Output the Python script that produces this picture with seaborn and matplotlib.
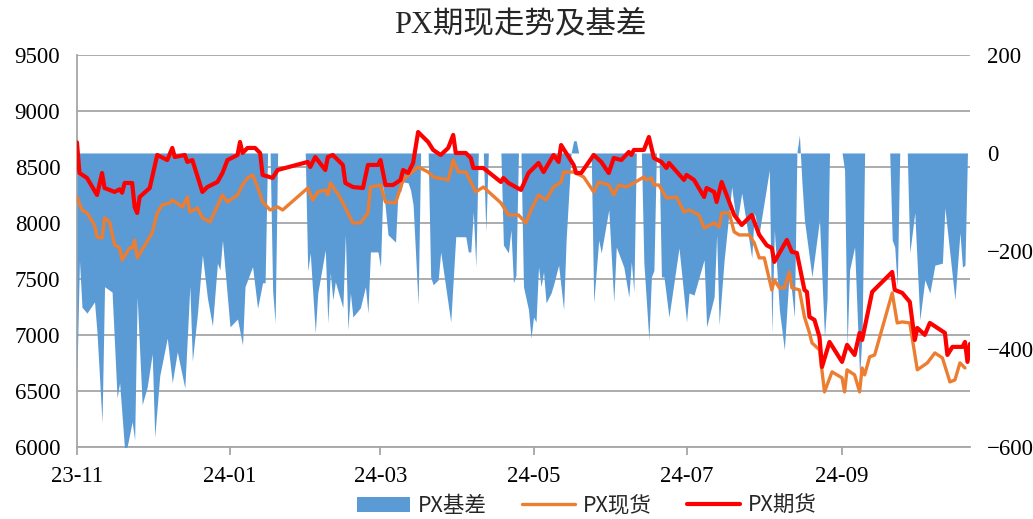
import pandas as pd
import matplotlib
matplotlib.use("Agg")
import matplotlib.pyplot as plt
import matplotlib.dates as mdates
from matplotlib.patches import Patch
from matplotlib.lines import Line2D
import seaborn as sns

sns.set_theme(style="white")
plt.rcParams['font.family'] = ['Liberation Serif', 'Noto Sans CJK SC']

# PX期货 (left axis)
fut_dates = [
    "2023-11-01", "2023-11-02", "2023-11-05", "2023-11-09", "2023-11-11", "2023-11-12",
    "2023-11-16", "2023-11-18", "2023-11-19", "2023-11-20", "2023-11-23", "2023-11-24",
    "2023-11-25", "2023-11-26", "2023-11-30", "2023-12-03", "2023-12-07", "2023-12-09",
    "2023-12-10", "2023-12-14", "2023-12-15", "2023-12-17", "2023-12-21", "2023-12-23",
    "2023-12-27", "2023-12-29", "2023-12-31", "2024-01-04", "2024-01-05", "2024-01-06",
    "2024-01-08", "2024-01-11", "2024-01-13", "2024-01-14", "2024-01-18", "2024-01-20",
    "2024-02-01", "2024-02-02", "2024-02-04", "2024-02-08", "2024-02-09", "2024-02-11",
    "2024-02-15", "2024-02-16", "2024-02-19", "2024-02-23", "2024-02-25", "2024-02-29",
    "2024-03-01", "2024-03-03", "2024-03-06", "2024-03-09", "2024-03-10", "2024-03-12",
    "2024-03-14", "2024-03-16", "2024-03-20", "2024-03-22", "2024-03-25", "2024-03-28",
    "2024-03-30", "2024-03-31", "2024-04-04", "2024-04-06", "2024-04-07", "2024-04-11",
    "2024-04-18", "2024-04-19", "2024-04-21", "2024-04-26", "2024-04-29", "2024-05-03",
    "2024-05-05", "2024-05-09", "2024-05-11", "2024-05-12", "2024-05-17", "2024-05-18",
    "2024-05-20", "2024-05-25", "2024-05-28", "2024-05-31", "2024-06-02", "2024-06-05",
    "2024-06-08", "2024-06-09", "2024-06-10", "2024-06-14", "2024-06-16", "2024-06-18",
    "2024-06-21", "2024-06-23", "2024-06-24", "2024-06-30", "2024-07-01", "2024-07-04",
    "2024-07-08", "2024-07-09", "2024-07-12", "2024-07-13", "2024-07-15", "2024-07-20",
    "2024-07-23", "2024-07-27", "2024-07-30", "2024-08-02", "2024-08-04", "2024-08-05",
    "2024-08-10", "2024-08-12", "2024-08-14", "2024-08-17", "2024-08-18", "2024-08-19",
    "2024-08-21", "2024-08-23", "2024-08-24", "2024-08-27", "2024-09-01", "2024-09-03",
    "2024-09-06", "2024-09-08", "2024-09-09", "2024-09-13", "2024-09-21", "2024-09-22",
    "2024-09-25", "2024-09-28", "2024-09-30", "2024-10-01", "2024-10-04", "2024-10-06",
    "2024-10-12", "2024-10-13", "2024-10-15", "2024-10-19", "2024-10-20", "2024-10-21",
    "2024-10-22",
]
fut_values = [
    8720, 8446, 8402, 8250, 8446, 8312,
    8277, 8300, 8270, 8357, 8357, 8143,
    8089, 8232, 8312, 8607, 8562, 8670,
    8589, 8607, 8545, 8562, 8277, 8321,
    8366, 8446, 8562, 8607, 8723, 8625,
    8670, 8670, 8625, 8429, 8402, 8473,
    8545, 8500, 8589, 8473, 8589, 8607,
    8518, 8357, 8321, 8312, 8518, 8518,
    8562, 8339, 8339, 8384, 8473, 8446,
    8536, 8812, 8723, 8652, 8607, 8670,
    8786, 8625, 8625, 8580, 8491, 8491,
    8366, 8402, 8357, 8295, 8446, 8536,
    8455, 8607, 8545, 8696, 8518, 8446,
    8446, 8607, 8545, 8446, 8580, 8562,
    8634, 8607, 8652, 8652, 8768, 8580,
    8545, 8491, 8536, 8384, 8429, 8384,
    8232, 8312, 8277, 8187, 8366, 8071,
    7982, 8071, 7893, 7800, 7777, 7652,
    7848, 7741, 7732, 7402, 7384, 7161,
    7134, 6982, 6714, 6937, 6759, 6911,
    6821, 7018, 6955, 7384, 7562, 7402,
    7375, 7295, 6955, 7062, 7000, 7107,
    7018, 6821, 6893, 6893, 6937, 6759,
    6920,
]

# PX现货 (left axis)
spot_dates = [
    "2023-11-01", "2023-11-03", "2023-11-05", "2023-11-08", "2023-11-09", "2023-11-11",
    "2023-11-12", "2023-11-14", "2023-11-16", "2023-11-18", "2023-11-19", "2023-11-22",
    "2023-11-23", "2023-11-24", "2023-11-25", "2023-11-30", "2023-12-01", "2023-12-03",
    "2023-12-05", "2023-12-08", "2023-12-09", "2023-12-13", "2023-12-15", "2023-12-16",
    "2023-12-19", "2023-12-21", "2023-12-24", "2023-12-29", "2023-12-31", "2024-01-04",
    "2024-01-06", "2024-01-08", "2024-01-10", "2024-01-12", "2024-01-14", "2024-01-17",
    "2024-01-20", "2024-01-22", "2024-02-01", "2024-02-03", "2024-02-05", "2024-02-08",
    "2024-02-09", "2024-02-10", "2024-02-14", "2024-02-16", "2024-02-19", "2024-02-22",
    "2024-02-25", "2024-02-26", "2024-03-01", "2024-03-03", "2024-03-07", "2024-03-10",
    "2024-03-13", "2024-03-16", "2024-03-20", "2024-03-22", "2024-03-28", "2024-03-30",
    "2024-04-01", "2024-04-04", "2024-04-06", "2024-04-08", "2024-04-11", "2024-04-18",
    "2024-04-21", "2024-04-25", "2024-04-28", "2024-04-30", "2024-05-03", "2024-05-06",
    "2024-05-09", "2024-05-12", "2024-05-13", "2024-05-17", "2024-05-21", "2024-05-25",
    "2024-05-27", "2024-05-31", "2024-06-02", "2024-06-04", "2024-06-07", "2024-06-10",
    "2024-06-14", "2024-06-15", "2024-06-17", "2024-06-18", "2024-06-20", "2024-06-23",
    "2024-06-27", "2024-06-30", "2024-07-02", "2024-07-06", "2024-07-08", "2024-07-12",
    "2024-07-14", "2024-07-15", "2024-07-18", "2024-07-20", "2024-07-22", "2024-07-26",
    "2024-07-28", "2024-07-30", "2024-08-01", "2024-08-04", "2024-08-05", "2024-08-07",
    "2024-08-09", "2024-08-11", "2024-08-12", "2024-08-15", "2024-08-17", "2024-08-19",
    "2024-08-20", "2024-08-23", "2024-08-25", "2024-08-28", "2024-09-01", "2024-09-02",
    "2024-09-03", "2024-09-06", "2024-09-08", "2024-09-09", "2024-09-10", "2024-09-12",
    "2024-09-14", "2024-09-21", "2024-09-23", "2024-09-25", "2024-09-28", "2024-10-01",
    "2024-10-05", "2024-10-08", "2024-10-11", "2024-10-14", "2024-10-16", "2024-10-18",
    "2024-10-20",
]
spot_values = [
    8232, 8116, 8089, 7982, 7875, 7866,
    8045, 8009, 7804, 7777, 7670, 7777,
    7777, 7848, 7688, 7875, 7911, 8089,
    8161, 8179, 8205, 8143, 8232, 8098,
    8134, 8045, 8009, 8250, 8187, 8250,
    8339, 8402, 8429, 8321, 8187, 8116,
    8143, 8116, 8312, 8205, 8277, 8295,
    8250, 8357, 8223, 8134, 8000, 8000,
    8089, 8321, 8339, 8187, 8179, 8384,
    8446, 8500, 8455, 8411, 8384, 8562,
    8455, 8455, 8366, 8277, 8321, 8179,
    8071, 8071, 8000, 8116, 8250, 8205,
    8321, 8366, 8455, 8455, 8411, 8277,
    8366, 8339, 8250, 8339, 8321, 8357,
    8411, 8384, 8402, 8339, 8339, 8223,
    8232, 8098, 8116, 8071, 7955, 8000,
    7964, 8089, 8089, 7920, 7893, 7893,
    7821, 7688, 7688, 7402, 7491, 7420,
    7420, 7562, 7420, 7402, 7161, 7018,
    6929, 6866, 6491, 6670, 6616, 6491,
    6688, 6643, 6491, 6705, 6643, 6804,
    6821, 7375, 7107, 7116, 7107, 6688,
    6750, 6839, 6795, 6580, 6598, 6750,
    6705,
]

# PX基差 (right axis)
basis_dates = [
    "2023-11-01", "2023-11-02", "2023-11-03", "2023-11-05", "2023-11-08", "2023-11-09",
    "2023-11-11", "2023-11-12", "2023-11-15", "2023-11-17", "2023-11-18", "2023-11-20",
    "2023-11-21", "2023-11-23", "2023-11-24", "2023-11-25", "2023-11-27", "2023-11-29",
    "2023-12-01", "2023-12-02", "2023-12-04", "2023-12-07", "2023-12-09", "2023-12-11",
    "2023-12-14", "2023-12-16", "2023-12-17", "2023-12-19", "2023-12-21", "2023-12-23",
    "2023-12-25", "2023-12-27", "2023-12-28", "2023-12-29", "2024-01-01", "2024-01-04",
    "2024-01-06", "2024-01-07", "2024-01-10", "2024-01-12", "2024-01-14", "2024-01-15",
    "2024-01-16", "2024-01-17", "2024-01-18", "2024-01-19", "2024-01-20", "2024-01-31",
    "2024-02-01", "2024-02-02", "2024-02-04", "2024-02-05", "2024-02-08", "2024-02-09",
    "2024-02-10", "2024-02-11", "2024-02-12", "2024-02-15", "2024-02-16", "2024-02-17",
    "2024-02-18", "2024-02-19", "2024-02-22", "2024-02-24", "2024-02-25", "2024-02-26",
    "2024-02-29", "2024-03-01", "2024-03-02", "2024-03-04", "2024-03-07", "2024-03-08",
    "2024-03-09", "2024-03-10", "2024-03-12", "2024-03-13", "2024-03-14", "2024-03-16",
    "2024-03-17", "2024-03-20", "2024-03-21", "2024-03-22", "2024-03-24", "2024-03-25",
    "2024-03-29", "2024-03-31", "2024-04-04", "2024-04-05", "2024-04-06", "2024-04-07",
    "2024-04-08", "2024-04-09", "2024-04-11", "2024-04-12", "2024-04-13", "2024-04-18",
    "2024-04-19", "2024-04-21", "2024-04-22", "2024-04-23", "2024-04-24", "2024-04-25",
    "2024-04-26", "2024-04-27", "2024-04-29", "2024-04-30", "2024-05-01", "2024-05-02",
    "2024-05-03", "2024-05-04", "2024-05-05", "2024-05-06", "2024-05-08", "2024-05-09",
    "2024-05-11", "2024-05-13", "2024-05-14", "2024-05-16", "2024-05-17", "2024-05-18",
    "2024-05-19", "2024-05-24", "2024-05-25", "2024-05-27", "2024-05-28", "2024-05-31",
    "2024-06-02", "2024-06-03", "2024-06-06", "2024-06-08", "2024-06-09", "2024-06-10",
    "2024-06-11", "2024-06-13", "2024-06-14", "2024-06-16", "2024-06-17", "2024-06-18",
    "2024-06-19", "2024-06-20", "2024-06-21", "2024-06-22", "2024-06-24", "2024-06-28",
    "2024-07-01", "2024-07-02", "2024-07-04", "2024-07-08", "2024-07-09", "2024-07-12",
    "2024-07-13", "2024-07-14", "2024-07-16", "2024-07-19", "2024-07-21", "2024-07-23",
    "2024-07-27", "2024-07-28", "2024-07-30", "2024-08-03", "2024-08-04", "2024-08-05",
    "2024-08-07", "2024-08-09", "2024-08-11", "2024-08-13", "2024-08-14", "2024-08-15",
    "2024-08-16", "2024-08-17", "2024-08-20", "2024-08-23", "2024-08-25", "2024-08-26",
    "2024-08-27", "2024-09-01", "2024-09-02", "2024-09-03", "2024-09-04", "2024-09-06",
    "2024-09-08", "2024-09-09", "2024-09-10", "2024-09-20", "2024-09-21", "2024-09-22",
    "2024-09-23", "2024-09-24", "2024-09-27", "2024-09-28", "2024-09-30", "2024-10-02",
    "2024-10-04", "2024-10-06", "2024-10-08", "2024-10-11", "2024-10-12", "2024-10-16",
    "2024-10-18", "2024-10-19", "2024-10-20", "2024-10-21",
]
basis_values = [
    -450, -220, -315, -327, -304, -367,
    -551, -273, -284, -500, -469, -606,
    -600, -549, -586, -294, -514, -478,
    -410, -580, -455, -378, -469, -406,
    -480, -272, -425, -330, -208, -296,
    -353, -225, -239, -178, -355, -339,
    -392, -273, -232, -317, -265, -265,
    0, 0, -280, -347, 0, 0,
    -241, -204, -367, -286, -198, -347,
    -245, -300, -263, -316, -167, -361,
    -286, -335, -316, -273, -327, -202,
    -202, -233, -65, -167, -182, -76,
    -80, -59, -61, -76, -106, -310,
    0, 0, -253, -269, -259, -202,
    -345, -171, -171, -202, -202, -120,
    -233, 0, 0, -161, 0, 0,
    -188, -204, -157, -265, -250, 0,
    0, -273, -320, -378, -335, -345,
    -233, -273, -243, -306, -286, -269,
    -229, -320, -178, 0, 25, 25,
    0, 0, -306, -178, -204, -116,
    -304, -192, -233, -294, -222, -284,
    0, 0, -225, -382, -253, -240,
    0, 0, -253, -253, -335, -194,
    -345, -286, -290, -218, -355, -294,
    -167, -351, -218, -69, -147, -82,
    -214, -122, -163, -35, -367, -157,
    -320, -402, -239, -335, 0, 37,
    -60, -137, -253, -137, -376, -300,
    0, 0, -35, -396, -239, -192,
    -457, -367, 0, 0, -178, -192,
    -273, 0, 0, -204, -122, -341,
    -259, -286, -229, -225, -112, -300,
    -163, -233, -229, 0,
]

fut = pd.DataFrame({"date": pd.to_datetime(fut_dates), "value": fut_values})
spot = pd.DataFrame({"date": pd.to_datetime(spot_dates), "value": spot_values})
basis = pd.DataFrame({"date": pd.to_datetime(basis_dates), "value": basis_values})

blue = "#5B9BD5"
orange = "#ED7D31"
red = "#FF0000"
grid_c = "#A6A6A6"

fig, ax = plt.subplots(figsize=(10.33, 5.19), dpi=100)
fig.subplots_adjust(left=0.0745, right=0.939, top=0.894, bottom=0.139)
ax2 = ax.twinx()   # basis area, right scale
ax3 = ax.twinx()   # price lines, left scale, drawn on top

ax2.fill_between(basis["date"], basis["value"], 0, color=blue, linewidth=0)
sns.lineplot(data=spot, x="date", y="value", ax=ax3, color=orange, lw=2.4)
sns.lineplot(data=fut, x="date", y="value", ax=ax3, color=red, lw=3.0)

start, end = pd.Timestamp("2023-11-01"), pd.Timestamp("2024-10-22")
ax.set_xlim(start, end)
ax.set_ylim(6000, 9500)
ax.set_yticks(range(6000, 9501, 500))
ax3.set_ylim(6000, 9500)
ax2.set_ylim(-600, 200)
ax2.set_yticks(range(-600, 201, 200))

ax.yaxis.grid(True, color=grid_c, lw=1.3)
ax.xaxis.grid(False)
ax.xaxis.set_major_locator(mdates.MonthLocator(bymonth=[1, 3, 5, 7, 9, 11]))
ax.xaxis.set_major_formatter(mdates.DateFormatter("%y-%m"))

for s in ["top", "right"]:
    ax.spines[s].set_visible(False)
for s in ["left", "bottom"]:
    ax.spines[s].set_color(grid_c)
    ax.spines[s].set_linewidth(1.3)
for a in (ax2, ax3):
    for s in a.spines.values():
        s.set_visible(False)

ax3.yaxis.set_visible(False)
ax3.set_xlabel("")
ax3.set_ylabel("")
ax.set_xlabel("")
ax.set_ylabel("")

ax.tick_params(axis="y", length=0, pad=12, labelsize=16.5, labelcolor="black")
ax.tick_params(axis="x", length=6, width=1.3, color=grid_c, direction="out",
               pad=8, labelsize=16.5, labelcolor="black", bottom=True)
ax2.tick_params(axis="y", length=0, pad=12, labelsize=16.5, labelcolor="black")

fig.text(0.504, 0.952, "PX期现走势及基差", ha="center", va="center",
         fontsize=22, family=["Liberation Serif", "Noto Sans CJK SC"])

handles = [Patch(facecolor=blue, edgecolor="none"),
           Line2D([], [], color=orange, lw=2.4),
           Line2D([], [], color=red, lw=3.0)]
labels = ["PX基差", "PX现货", "PX期货"]
fig.legend(handles, labels, loc="center", bbox_to_anchor=(0.568, 0.025), ncol=3,
           frameon=False, prop={"family": ["Noto Sans CJK SC"], "size": 15.5},
           handlelength=2.45, handleheight=0.7, handletextpad=0.37, columnspacing=1.65)

fig.savefig("out.png", dpi=100)
